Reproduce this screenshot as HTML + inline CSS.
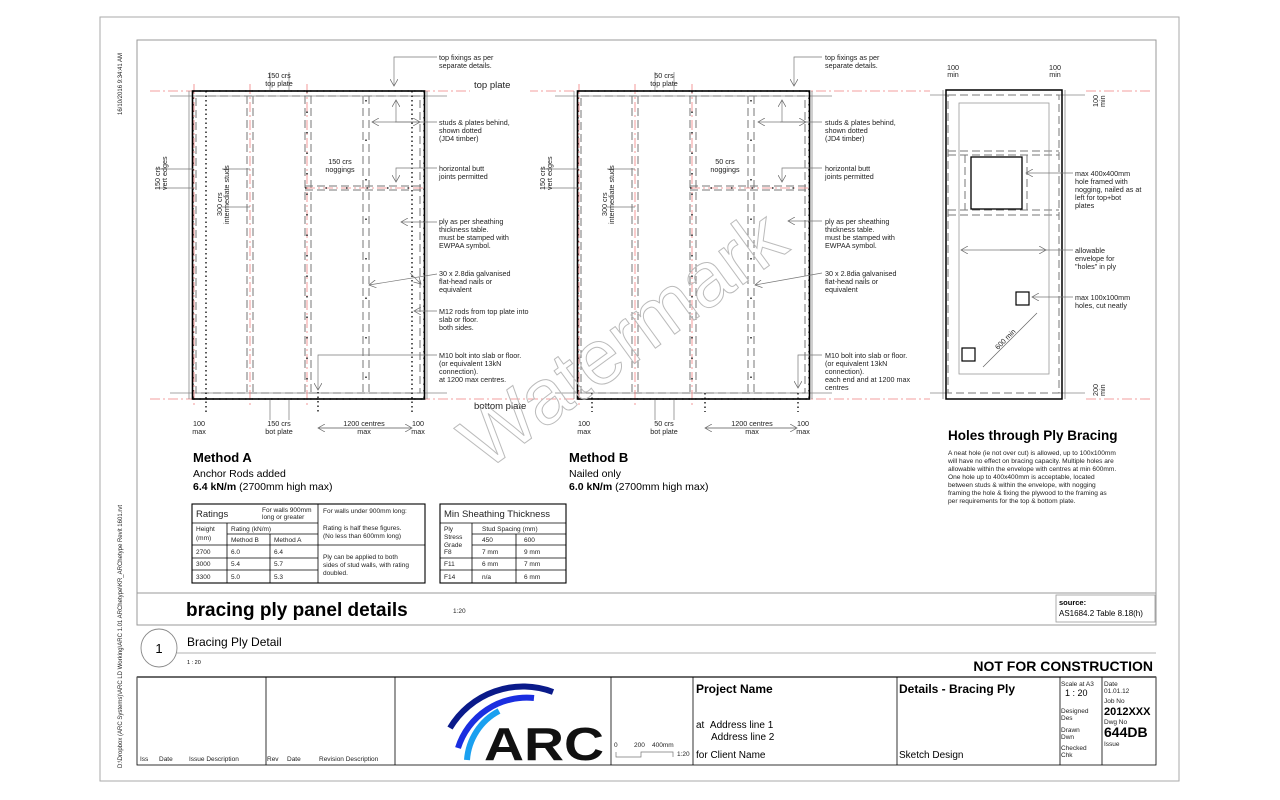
<!DOCTYPE html>
<html><head><meta charset="utf-8"><style>
html,body{margin:0;padding:0;background:#fff;}
svg{display:block;font-family:"Liberation Sans",sans-serif;}
.t{font-size:7.2px;fill:#222;}
.s{font-size:6.5px;fill:#222;}
</style></head><body>
<svg width="1280" height="800" viewBox="0 0 1280 800" xmlns="http://www.w3.org/2000/svg">
<defs>
<marker id="ar" markerWidth="8" markerHeight="8" refX="7" refY="4" orient="auto" markerUnits="userSpaceOnUse"><path d="M0,0 L7,4 L0,8" fill="none" stroke="#666" stroke-width="0.7"/></marker>
<g id="panel">
  <line x1="170" y1="96" x2="447" y2="96" stroke="#888" stroke-width="0.8"/>
  <line x1="170" y1="393" x2="447" y2="393" stroke="#888" stroke-width="0.8"/>
  <line x1="189" y1="91" x2="189" y2="399" stroke="#888" stroke-width="0.8"/>
  <line x1="427" y1="91" x2="427" y2="399" stroke="#888" stroke-width="0.8"/>
  <g fill="none" stroke="#777" stroke-width="1" stroke-dasharray="8 4">
    <rect x="196" y="96" width="224" height="297"/>
    <line x1="247" y1="96" x2="247" y2="393"/><line x1="253" y1="96" x2="253" y2="393"/>
    <line x1="305" y1="96" x2="305" y2="393"/><line x1="311" y1="96" x2="311" y2="393"/>
    <line x1="363" y1="96" x2="363" y2="393"/><line x1="369" y1="96" x2="369" y2="393"/>
    <line x1="305" y1="186" x2="424" y2="186"/><line x1="305" y1="190" x2="424" y2="190"/>
  </g>
  <g stroke="#f08080" stroke-width="0.8" stroke-dasharray="10 3 2 3" fill="none">
    <line x1="194" y1="84" x2="194" y2="406"/>
    <line x1="250" y1="84" x2="250" y2="406"/>
    <line x1="307" y1="84" x2="307" y2="406"/>
    <line x1="305" y1="188" x2="426" y2="188"/>
  </g>
  <rect x="192.5" y="91" width="232" height="308" fill="none" stroke="#000" stroke-width="1.6"/>
  <g stroke="#000" stroke-width="1.3" stroke-dasharray="1.5 5" fill="none">
    <line x1="193" y1="91" x2="424" y2="91"/>
    <line x1="193" y1="399" x2="424" y2="399"/>
    <line x1="193" y1="91" x2="193" y2="399"/>
    <line x1="424" y1="91" x2="424" y2="399"/>
    <line x1="307" y1="91" x2="307" y2="399" stroke-dasharray="1.5 19"/>
    <line x1="366" y1="100" x2="366" y2="393" stroke-dasharray="1.5 38"/>
    <line x1="305" y1="188" x2="424" y2="188" stroke-dasharray="1.5 19"/>
  </g>
</g>
</defs>

<rect x="100" y="17" width="1079" height="764" fill="none" stroke="#aaa" stroke-width="1"/>
<rect x="137" y="40" width="1019" height="585" fill="none" stroke="#999" stroke-width="1"/>
<line x1="137" y1="593" x2="1156" y2="593" stroke="#999" stroke-width="1"/>

<text class="s" transform="translate(122,115) rotate(-90)" style="font-size:6px">16/10/2016 9:34:41 AM</text>
<text class="s" transform="translate(122,768) rotate(-90)" style="font-size:6px">D:\Dropbox (ARC Systems)\ARC LD Working\ARC 1.01 ARChetype\KR_ARChetype Revit 1601.rvt</text>

<g stroke="#f08080" stroke-width="0.8" stroke-dasharray="10 3 2 3">
<line x1="150" y1="91" x2="1150" y2="91"/>
<line x1="150" y1="399" x2="1150" y2="399"/>
</g>
<rect x="470" y="80" width="60" height="12" fill="#fff"/>
<rect x="470" y="400" width="60" height="12" fill="#fff"/>
<rect x="930" y="85" width="155" height="10" fill="#fff"/>
<rect x="930" y="396" width="155" height="8" fill="#fff"/>

<use href="#panel"/>
<g stroke="#000" stroke-width="1.3" stroke-dasharray="1.5 3"><line x1="206" y1="91" x2="206" y2="412"/><line x1="412" y1="91" x2="412" y2="412"/><line x1="318" y1="392" x2="318" y2="412"/></g>
<use href="#panel" transform="translate(385,0)"/>
<g stroke="#000" stroke-width="1.3" stroke-dasharray="1.5 3"><line x1="592" y1="393" x2="592" y2="412"/><line x1="705" y1="393" x2="705" y2="412"/><line x1="798" y1="393" x2="798" y2="412"/></g>

<g fill="none" stroke="#777" stroke-width="0.7">
<path d="M437,57 H394 V86" marker-end="url(#ar)"/>
<path d="M437,122 H372" marker-end="url(#ar)"/><path d="M395,122 H420" marker-end="url(#ar)"/><path d="M396,122 V100" marker-end="url(#ar)"/>
<path d="M437,168 H396 V182" marker-end="url(#ar)"/>
<path d="M437,222 H401" marker-end="url(#ar)"/>
<path d="M437,274 L369,285" marker-end="url(#ar)"/><path d="M410,273 L421,284" marker-end="url(#ar)"/>
<path d="M437,311 H414" marker-end="url(#ar)"/>
<path d="M437,355 H318 V390" marker-end="url(#ar)"/>
<path d="M822,57 H794 V86" marker-end="url(#ar)"/>
<path d="M822,122 H758" marker-end="url(#ar)"/><path d="M780,122 H806" marker-end="url(#ar)"/><path d="M782,122 V100" marker-end="url(#ar)"/>
<path d="M822,168 H782 V182" marker-end="url(#ar)"/>
<path d="M822,221 H788" marker-end="url(#ar)"/>
<path d="M822,273 L755,285" marker-end="url(#ar)"/>
<path d="M822,355 H798 V388" marker-end="url(#ar)"/>
<path d="M318,428 H412" marker-end="url(#ar)"/><path d="M412,428 H318" marker-end="url(#ar)"/>
<path d="M705,428 H797" marker-end="url(#ar)"/><path d="M797,428 H705" marker-end="url(#ar)"/>
<line x1="270" y1="400" x2="270" y2="420"/><line x1="289" y1="400" x2="289" y2="420"/>
<line x1="270" y1="72" x2="270" y2="90"/><line x1="289" y1="72" x2="289" y2="90"/>
<line x1="655" y1="400" x2="655" y2="420"/><line x1="674" y1="400" x2="674" y2="420"/>
<line x1="655" y1="72" x2="655" y2="90"/><line x1="674" y1="72" x2="674" y2="90"/>
<line x1="155" y1="169" x2="193" y2="169"/><line x1="155" y1="188" x2="193" y2="188"/>
<line x1="222" y1="169" x2="250" y2="169"/><line x1="222" y1="207" x2="250" y2="207"/>
<line x1="540" y1="169" x2="578" y2="169"/><line x1="540" y1="188" x2="578" y2="188"/>
<line x1="607" y1="169" x2="635" y2="169"/><line x1="607" y1="207" x2="635" y2="207"/>
</g>

<g class="t">
<text x="439" y="60">top fixings as per</text><text x="439" y="68">separate details.</text>
<text x="439" y="125">studs &amp; plates behind,</text><text x="439" y="133">shown dotted</text><text x="439" y="141">(JD4 timber)</text>
<text x="439" y="171">horizontal butt</text><text x="439" y="179">joints permitted</text>
<text x="439" y="224">ply as per sheathing</text><text x="439" y="232">thickness table.</text><text x="439" y="240">must be stamped with</text><text x="439" y="248">EWPAA symbol.</text>
<text x="439" y="276">30 x 2.8dia galvanised</text><text x="439" y="284">flat-head nails or</text><text x="439" y="292">equivalent</text>
<text x="439" y="314">M12 rods from top plate into</text><text x="439" y="322">slab or floor.</text><text x="439" y="330">both sides.</text>
<text x="439" y="358">M10 bolt into slab or floor.</text><text x="439" y="366">(or equivalent 13kN</text><text x="439" y="374">connection).</text><text x="439" y="382">at 1200 max centres.</text>
<text x="825" y="60">top fixings as per</text><text x="825" y="68">separate details.</text>
<text x="825" y="125">studs &amp; plates behind,</text><text x="825" y="133">shown dotted</text><text x="825" y="141">(JD4 timber)</text>
<text x="825" y="171">horizontal butt</text><text x="825" y="179">joints permitted</text>
<text x="825" y="224">ply as per sheathing</text><text x="825" y="232">thickness table.</text><text x="825" y="240">must be stamped with</text><text x="825" y="248">EWPAA symbol.</text>
<text x="825" y="276">30 x 2.8dia galvanised</text><text x="825" y="284">flat-head nails or</text><text x="825" y="292">equivalent</text>
<text x="825" y="358">M10 bolt into slab or floor.</text><text x="825" y="366">(or equivalent 13kN</text><text x="825" y="374">connection).</text><text x="825" y="382">each end and at 1200 max</text><text x="825" y="390">centres</text>
<g text-anchor="middle">
<text x="279" y="78">150 crs</text><text x="279" y="86">top plate</text>
<text x="279" y="426">150 crs</text><text x="279" y="434">bot plate</text>
<text x="199" y="426">100</text><text x="199" y="434">max</text>
<text x="418" y="426">100</text><text x="418" y="434">max</text>
<text x="364" y="426">1200 centres</text><text x="364" y="434">max</text>
<text x="340" y="164">150 crs</text><text x="340" y="172">noggings</text>
<text x="664" y="78">50 crs</text><text x="664" y="86">top plate</text>
<text x="664" y="426">50 crs</text><text x="664" y="434">bot plate</text>
<text x="584" y="426">100</text><text x="584" y="434">max</text>
<text x="803" y="426">100</text><text x="803" y="434">max</text>
<text x="752" y="426">1200 centres</text><text x="752" y="434">max</text>
<text x="725" y="164">50 crs</text><text x="725" y="172">noggings</text>
</g>
<text transform="translate(160,190) rotate(-90)">150 crs</text><text transform="translate(167,190) rotate(-90)">vert edges</text>
<text transform="translate(222,216) rotate(-90)">300 crs</text><text transform="translate(229,224) rotate(-90)">intermediate studs</text>
<text transform="translate(545,190) rotate(-90)">150 crs</text><text transform="translate(552,190) rotate(-90)">vert edges</text>
<text transform="translate(607,216) rotate(-90)">300 crs</text><text transform="translate(614,224) rotate(-90)">intermediate studs</text>
</g>
<text x="474" y="88" style="font-size:9.5px" fill="#222">top plate</text>
<text x="474" y="409" style="font-size:9.5px" fill="#222">bottom plate</text>

<g>
<line x1="930" y1="95" x2="948" y2="95" stroke="#888" stroke-width="0.8"/>
<line x1="930" y1="393" x2="948" y2="393" stroke="#888" stroke-width="0.8"/>
<line x1="1059" y1="95" x2="1085" y2="95" stroke="#888" stroke-width="0.8"/>
<line x1="1059" y1="393" x2="1085" y2="393" stroke="#888" stroke-width="0.8"/>
<line x1="943" y1="90" x2="943" y2="399" stroke="#888" stroke-width="0.8"/>
<line x1="1065" y1="90" x2="1065" y2="399" stroke="#888" stroke-width="0.8"/>
<g fill="none" stroke="#777" stroke-width="1" stroke-dasharray="8 4">
<rect x="948" y="95" width="111" height="298"/>
<line x1="948" y1="151" x2="1059" y2="151"/><line x1="948" y1="155" x2="1059" y2="155"/>
<line x1="948" y1="210" x2="1059" y2="210"/><line x1="948" y1="215" x2="1059" y2="215"/>
<line x1="965" y1="155" x2="965" y2="210"/><line x1="1027" y1="155" x2="1027" y2="210"/>
</g>
<rect x="959" y="103" width="90" height="271" fill="none" stroke="#999" stroke-width="0.8"/>
<rect x="946" y="90" width="116" height="309" fill="none" stroke="#000" stroke-width="1.5"/>
<rect x="971" y="157" width="51" height="52" fill="none" stroke="#000" stroke-width="1.3"/>
<rect x="1016" y="292" width="13" height="13" fill="none" stroke="#000" stroke-width="1.2"/>
<rect x="962" y="348" width="13" height="13" fill="none" stroke="#000" stroke-width="1.2"/>
<line x1="983" y1="367" x2="1037" y2="313" stroke="#666" stroke-width="0.7"/>
<g fill="none" stroke="#777" stroke-width="0.7">
<path d="M1073,173 H1026" marker-end="url(#ar)"/>
<path d="M1073,250 H961" marker-end="url(#ar)"/><path d="M1000,250 H1046" marker-end="url(#ar)"/>
<path d="M1073,297 H1032" marker-end="url(#ar)"/>
</g>
<g class="t">
<text x="1075" y="176">max 400x400mm</text><text x="1075" y="184">hole framed with</text><text x="1075" y="192">nogging, nailed as at</text><text x="1075" y="200">left for top+bot</text><text x="1075" y="208">plates</text>
<text x="1075" y="253">allowable</text><text x="1075" y="261">envelope for</text><text x="1075" y="269">"holes" in ply</text>
<text x="1075" y="300">max 100x100mm</text><text x="1075" y="308">holes, cut neatly</text>
<text x="953" y="70" text-anchor="middle">100</text><text x="953" y="77" text-anchor="middle">min</text>
<text x="1055" y="70" text-anchor="middle">100</text><text x="1055" y="77" text-anchor="middle">min</text>
<text transform="translate(1098,107) rotate(-90)">100</text><text transform="translate(1105,107) rotate(-90)">min</text>
<text transform="translate(1098,396) rotate(-90)">200</text><text transform="translate(1105,396) rotate(-90)">min</text>
<text transform="translate(998,350) rotate(-45)">600 min</text>
</g>
<text x="948" y="440" style="font-size:13.5px;font-weight:bold">Holes through Ply Bracing</text>
<g style="font-size:6.6px" fill="#222">
<text x="948" y="455">A neat hole (ie not over cut) is allowed, up to 100x100mm</text>
<text x="948" y="463">will have no effect on bracing capacity. Multiple holes are</text>
<text x="948" y="471">allowable within the envelope with centres at min 600mm.</text>
<text x="948" y="479">One hole up to 400x400mm is acceptable, located</text>
<text x="948" y="487">between studs &amp; within the envelope, with nogging</text>
<text x="948" y="495">framing the hole &amp; fixing the plywood to the framing as</text>
<text x="948" y="503">per requirements for the top &amp; bottom plate.</text>
</g>
</g>

<text transform="translate(485,472) rotate(-36)" style="font-size:78px" fill="none" stroke="#bbb" stroke-width="1">Watermark</text>

<text x="193" y="462" style="font-size:13px;font-weight:bold">Method A</text>
<text x="193" y="477" style="font-size:10.5px">Anchor Rods added</text>
<text x="193" y="490" style="font-size:10.5px"><tspan font-weight="bold">6.4 kN/m</tspan> (2700mm high max)</text>
<text x="569" y="462" style="font-size:13px;font-weight:bold">Method B</text>
<text x="569" y="477" style="font-size:10.5px">Nailed only</text>
<text x="569" y="490" style="font-size:10.5px"><tspan font-weight="bold">6.0 kN/m</tspan> (2700mm high max)</text>

<g fill="none" stroke="#000" stroke-width="0.8">
<rect x="192" y="504" width="233" height="79" stroke-width="1.1"/>
<line x1="318" y1="504" x2="318" y2="583"/>
<line x1="192" y1="523" x2="318" y2="523"/>
<line x1="227" y1="523" x2="227" y2="583"/>
<line x1="227" y1="534" x2="318" y2="534"/>
<line x1="270" y1="534" x2="270" y2="583"/>
<line x1="192" y1="545" x2="425" y2="545"/>
<line x1="192" y1="558" x2="318" y2="558"/>
<line x1="192" y1="570" x2="318" y2="570"/>
<rect x="440" y="504" width="126" height="79" stroke-width="1.1"/>
<line x1="440" y1="523" x2="566" y2="523"/>
<line x1="472" y1="523" x2="472" y2="583"/>
<line x1="472" y1="534" x2="566" y2="534"/>
<line x1="516" y1="534" x2="516" y2="583"/>
<line x1="472" y1="545" x2="566" y2="545"/>
<line x1="440" y1="558" x2="566" y2="558"/>
<line x1="440" y1="570" x2="566" y2="570"/>
</g>
<g class="s">
<text x="196" y="517" style="font-size:9.5px">Ratings</text>
<text x="262" y="512">For walls 900mm</text><text x="262" y="519">long or greater</text>
<text x="196" y="531">Height</text><text x="196" y="540">(mm)</text>
<text x="231" y="531">Rating (kN/m)</text>
<text x="231" y="542">Method B</text><text x="274" y="542">Method A</text>
<text x="196" y="554">2700</text><text x="231" y="554">6.0</text><text x="274" y="554">6.4</text>
<text x="196" y="566">3000</text><text x="231" y="566">5.4</text><text x="274" y="566">5.7</text>
<text x="196" y="579">3300</text><text x="231" y="579">5.0</text><text x="274" y="579">5.3</text>
<text x="323" y="513">For walls under 900mm long:</text>
<text x="323" y="530">Rating is half these figures.</text><text x="323" y="538">(No less than 600mm long)</text>
<text x="323" y="559">Ply can be applied to both</text><text x="323" y="567">sides of stud walls, with rating</text><text x="323" y="575">doubled.</text>
<text x="444" y="517" style="font-size:9.5px">Min Sheathing Thickness</text>
<text x="444" y="531">Ply</text><text x="444" y="539">Stress</text><text x="444" y="547">Grade</text>
<text x="482" y="531">Stud Spacing (mm)</text>
<text x="482" y="542">450</text><text x="524" y="542">600</text>
<text x="444" y="554">F8</text><text x="482" y="554">7 mm</text><text x="524" y="554">9 mm</text>
<text x="444" y="566">F11</text><text x="482" y="566">6 mm</text><text x="524" y="566">7 mm</text>
<text x="444" y="579">F14</text><text x="482" y="579">n/a</text><text x="524" y="579">6 mm</text>
</g>

<text x="186" y="616" style="font-size:19px;font-weight:bold">bracing ply panel details</text>
<text x="453" y="613" class="s">1:20</text>
<rect x="1056" y="595" width="99" height="27" fill="none" stroke="#999" stroke-width="0.8"/>
<text x="1059" y="605" style="font-size:7.5px;font-weight:bold">source:</text>
<text x="1059" y="616" style="font-size:8px">AS1684.2 Table 8.18(h)</text>

<ellipse cx="159" cy="648" rx="18" ry="19" fill="none" stroke="#888" stroke-width="0.9"/>
<text x="159" y="653" text-anchor="middle" style="font-size:13px">1</text>
<line x1="177" y1="653" x2="1156" y2="653" stroke="#999" stroke-width="0.8"/>
<text x="187" y="646" style="font-size:12px">Bracing Ply Detail</text>
<text x="187" y="664" style="font-size:5.5px">1 : 20</text>
<text x="1153" y="671" text-anchor="end" style="font-size:14px;font-weight:bold">NOT FOR CONSTRUCTION</text>

<g fill="none" stroke="#000" stroke-width="0.8">
<rect x="137" y="677" width="1019" height="88"/>
<line x1="137" y1="677" x2="1156" y2="677" stroke-width="1.8" stroke="#555"/>
<line x1="266" y1="677" x2="266" y2="765"/>
<line x1="395" y1="677" x2="395" y2="765"/>
<line x1="611" y1="677" x2="611" y2="765"/>
<line x1="693" y1="677" x2="693" y2="765"/>
<line x1="897" y1="677" x2="897" y2="765"/>
<line x1="1060" y1="677" x2="1060" y2="765"/>
<line x1="1102" y1="677" x2="1102" y2="765"/>
</g>
<g style="font-size:6.5px" fill="#222">
<text x="140" y="761">Iss</text><text x="159" y="761">Date</text><text x="189" y="761">Issue Description</text>
<text x="267" y="761">Rev</text><text x="287" y="761">Date</text><text x="319" y="761">Revision Description</text>
<text x="1061" y="686">Scale at A3</text>
<text x="1104" y="686">Date</text><text x="1104" y="693">01.01.12</text>
<text x="1104" y="703">Job No</text>
<text x="1061" y="713">Designed</text><text x="1061" y="720">Des</text>
<text x="1104" y="724">Dwg No</text>
<text x="1061" y="732">Drawn</text><text x="1061" y="739">Dwn</text>
<text x="1104" y="746">Issue</text>
<text x="1061" y="750">Checked</text><text x="1061" y="757">Chk</text>
<text x="614" y="747">0</text><text x="634" y="747">200</text><text x="652" y="747">400mm</text>
<text x="677" y="756">1:20</text>
</g>
<text x="1065" y="696" style="font-size:9px">1 : 20</text>
<text x="1104" y="715" style="font-size:11px;font-weight:bold">2012XXX</text>
<text x="1104" y="737" style="font-size:14px;font-weight:bold">644DB</text>
<path d="M616,752 V757 H641 V752 H673 V757" fill="none" stroke="#777" stroke-width="0.7"/>
<text x="696" y="693" style="font-size:12px;font-weight:bold">Project Name</text>
<text x="696" y="728" style="font-size:10px">at&#160;&#160;Address line 1</text>
<text x="711" y="740" style="font-size:10px">Address line 2</text>
<text x="696" y="758" style="font-size:10px">for Client Name</text>
<text x="899" y="693" style="font-size:12px;font-weight:bold">Details - Bracing Ply</text>
<text x="899" y="758" style="font-size:10px">Sketch Design</text>
<g fill="none" stroke-linecap="butt">
<path d="M450,728 A85,85 0 0 1 553,692" stroke="#0a1a8a" stroke-width="6"/>
<path d="M458,748 A72,72 0 0 1 534,698" stroke="#1a2ee0" stroke-width="6"/>
<path d="M467,760 A60,60 0 0 1 499,711" stroke="#1aa0f0" stroke-width="6"/>
</g>
<text x="484" y="760" textLength="120" lengthAdjust="spacingAndGlyphs" style="font-size:46px;font-weight:bold" fill="#111">ARC</text>
</svg>
</body></html>
